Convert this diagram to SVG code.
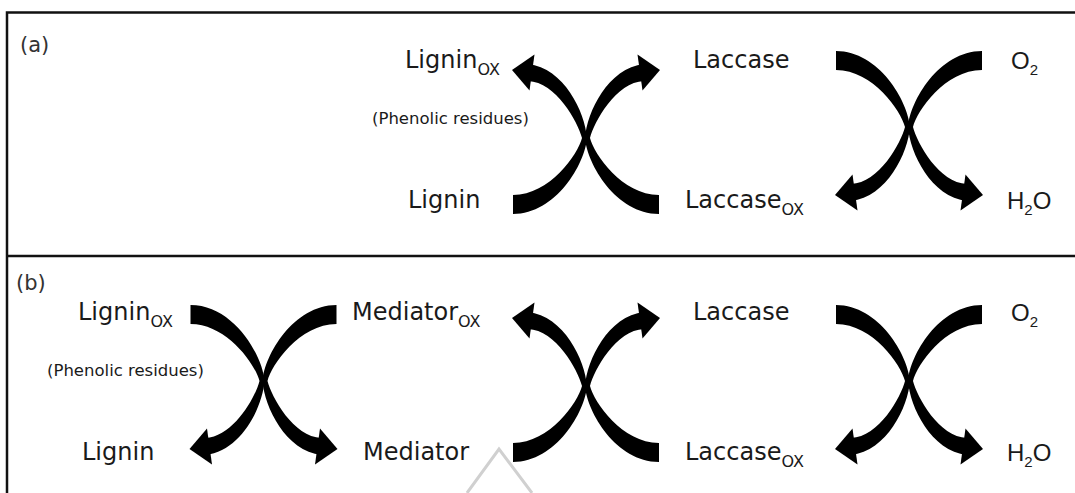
<svg xmlns="http://www.w3.org/2000/svg" xmlns:xlink="http://www.w3.org/1999/xlink" width="1075" height="493" viewBox="0 0 1075 493">
<style>
.lbl{font-family:"DejaVu Sans","Noto Sans",sans-serif;font-size:24px;fill:#1a1a1a}
.sub{font-size:16px}
.note{font-family:"DejaVu Sans","Noto Sans",sans-serif;font-size:16.5px;fill:#1a1a1a}
.chem{font-family:"Liberation Sans",Arial,sans-serif;font-size:24px;fill:#1a1a1a}
.chem .s{font-size:15px}
.panel{font-family:"DejaVu Sans","Noto Sans",sans-serif;font-size:21px;fill:#333}
.frame{fill:none;stroke:#111;stroke-width:2.5}
</style>
<defs>
<g id="half">
<path d="M-73,76 C-30,76 -1,26 1,0 C-1,-26 -22,-70 -58,-74 L-58,-57 C-30,-56 -8,-16 -4,0 C-8,16 -36,57 -73,57 Z"/>
<polygon points="-51.5,-83.5 -74,-68 -56.5,-47.5"/>
</g>
<g id="xUp"><use href="#half"/><use href="#half" transform="scale(-1,1)"/></g>
</defs>
<rect width="1075" height="493" fill="#fff"/>
<g id="frame">
<path class="frame" d="M7,493 V12.5 H1075"/>
<path class="frame" d="M7,256 H1075"/>
</g>
<polyline points="467,493 499,449 532,493" fill="none" stroke="#d0d0d0" stroke-width="3"/>
<g id="connectors" fill="#000">
<use href="#xUp" transform="translate(586,138)"/>
<use href="#xUp" transform="translate(909,127) scale(1,-1)"/>
<use href="#xUp" transform="translate(263.5,381) scale(1,-1)"/>
<use href="#xUp" transform="translate(586,386)"/>
<use href="#xUp" transform="translate(909,381) scale(1,-1)"/>
</g>
<text id="label-a" class="panel" x="20" y="52">(a)</text>
<text id="label-b" class="panel" x="16" y="290">(b)</text>
<g id="a-ligninox"><text class="lbl" x="405" y="68">Lignin<tspan class="sub" dy="7">OX</tspan></text></g>
<g id="a-phenolic"><text class="note" x="372" y="124">(Phenolic residues)</text></g>
<g id="a-lignin"><text class="lbl" x="408" y="208">Lignin</text></g>
<g id="a-laccase"><text class="lbl" x="693" y="68">Laccase</text></g>
<g id="a-laccaseox"><text class="lbl" x="685" y="208">Laccase<tspan class="sub" dy="7">OX</tspan></text></g>
<g id="a-o2"><text class="chem" x="1011" y="69">O<tspan class="s" dy="6">2</tspan></text></g>
<g id="a-h2o"><text class="chem" x="1007" y="209">H<tspan class="s" dy="6">2</tspan><tspan dy="-6">O</tspan></text></g>
<g id="b-ligninox"><text class="lbl" x="78" y="320">Lignin<tspan class="sub" dy="7">OX</tspan></text></g>
<g id="b-phenolic"><text class="note" x="47" y="376">(Phenolic residues)</text></g>
<g id="b-lignin"><text class="lbl" x="82" y="460">Lignin</text></g>
<g id="b-mediatorox"><text class="lbl" x="352" y="320">Mediator<tspan class="sub" dy="7">OX</tspan></text></g>
<g id="b-mediator"><text class="lbl" x="363" y="460">Mediator</text></g>
<g id="b-laccase"><text class="lbl" x="693" y="320">Laccase</text></g>
<g id="b-laccaseox"><text class="lbl" x="685" y="460">Laccase<tspan class="sub" dy="7">OX</tspan></text></g>
<g id="b-o2"><text class="chem" x="1011" y="321">O<tspan class="s" dy="6">2</tspan></text></g>
<g id="b-h2o"><text class="chem" x="1007" y="461">H<tspan class="s" dy="6">2</tspan><tspan dy="-6">O</tspan></text></g>
</svg>
